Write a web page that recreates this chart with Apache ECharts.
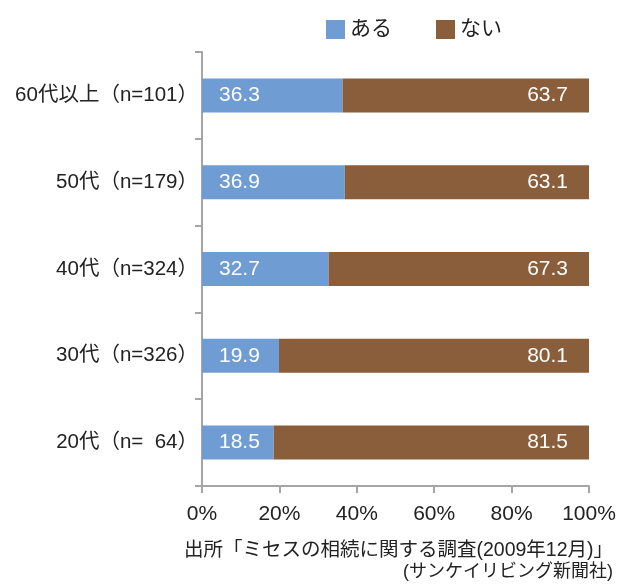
<!DOCTYPE html>
<html><head><meta charset="utf-8">
<script src="https://cdn.jsdelivr.net/npm/echarts@6/dist/echarts.min.js"></script>
<style>html,body{margin:0;padding:0;background:#fff}#c{width:630px;height:586px}</style>
</head><body><div id="c"></div>
<script>
var categories = ['60代以上（n=101）','50代（n=179）','40代（n=324）','30代（n=326）','20代（n=  64）'];
var aruValues = [36.3, 36.9, 32.7, 19.9, 18.5];
var naiValues = [63.7, 63.1, 67.3, 80.1, 81.5];
var seriesNames = ['ある','ない'];
var xTicks = [0, 20, 40, 60, 80, 100];
var sourceLines = ['出所「ミセスの相続に関する調査(2009年12月)」', '(サンケイリビング新聞社)'];

var FONT = '"Liberation Sans", "Noto Sans CJK JP", sans-serif';
var chart = echarts.init(document.getElementById('c'));
chart.setOption({
  animation: false,
  textStyle: {fontFamily: FONT},
  legend: {
    top: 14, left: 321, itemWidth: 19, itemHeight: 19, itemGap: 44,
    icon: 'rect',
    textStyle: {fontSize: 21, color: '#222', fontFamily: FONT},
    data: seriesNames
  },
  grid: {left: 202, right: 41, top: 52, bottom: 100, containLabel: false},
  xAxis: {
    type: 'value', min: 0, max: 100, interval: 20,
    axisLine: {show: true, lineStyle: {color: '#a5a5a8', width: 2}},
    axisTick: {show: true, length: 7, lineStyle: {color: '#a5a5a8', width: 2}},
    splitLine: {show: false},
    axisLabel: {formatter: function(v){ return xTicks.indexOf(v) >= 0 ? v + '%' : ''; }, fontSize: 21, color: '#222', margin: 18, fontFamily: FONT}
  },
  yAxis: {
    type: 'category', inverse: true, data: categories,
    axisLine: {show: true, lineStyle: {color: '#a5a5a8', width: 2}},
    axisTick: {show: true, length: 7, lineStyle: {color: '#a5a5a8', width: 2}},
    axisLabel: {fontSize: 20.5, color: '#222', margin: 4, fontFamily: FONT}
  },
  series: [
    {
      name: seriesNames[0], type: 'bar', stack: 't', data: aruValues, barWidth: 34,
      itemStyle: {color: '#6f9dd3'},
      label: {show: true, position: 'insideLeft', distance: 17, color: '#fff', fontSize: 21, fontFamily: FONT,
        formatter: function(p){ return p.value.toFixed(1); }}
    },
    {
      name: seriesNames[1], type: 'bar', stack: 't', data: naiValues, barWidth: 34,
      itemStyle: {color: '#8a5d3b'},
      label: {show: true, position: 'insideRight', distance: 21, color: '#fff', fontSize: 21, fontFamily: FONT,
        formatter: function(p){ return p.value.toFixed(1); }}
    }
  ],
  graphic: [
    {type: 'text', right: 17, top: 541, style: {text: sourceLines[0], fill: '#222', font: '19.5px ' + FONT, textAlign: 'right'}},
    {type: 'text', right: 17, top: 563, style: {text: sourceLines[1], fill: '#222', font: '18px ' + FONT, textAlign: 'right'}}
  ]
});
</script></body></html>
